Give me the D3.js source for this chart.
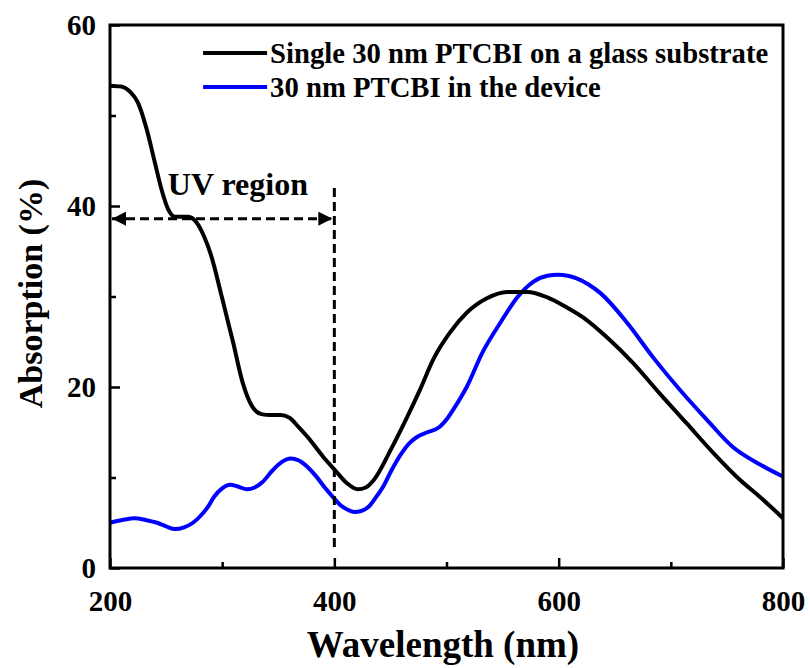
<!DOCTYPE html>
<html>
<head>
<meta charset="utf-8">
<script src="https://cdn.jsdelivr.net/npm/d3@7"></script>
<style>
  html, body { margin: 0; padding: 0; background: #fff; }
  svg text { font-family: "Liberation Serif", "Times New Roman", Times, "DejaVu Serif", serif; font-weight: bold; fill: #000; }
</style>
</head>
<body>
<svg id="chart" width="810" height="668"></svg>
<script>
// Absorption spectra of a 30 nm PTCBI film (wavelength in nm, absorption in %)
const glassWavelength = [200,210,218,225,232,240,246,252,258,264,270,277,284,290,300,310,318,327,335,343,352,360,368,376,390,400,411,421,428,435,450,465,476,488,503,518,536,554,572,590,607,625,643,666,690,714,738,762,780,800];
const glassAbsorption = [53.3,53.2,52.6,51.4,48.8,44.8,41.8,39.6,38.8,38.8,38.8,38.2,36.6,34.6,29.8,24.8,20.6,17.8,17.0,16.9,16.9,16.6,15.6,14.5,12.3,10.9,9.4,8.7,8.9,9.7,13.0,16.7,19.6,23.0,26.0,28.2,29.8,30.5,30.5,29.9,28.8,27.4,25.5,22.7,19.3,16.0,12.7,9.7,7.8,5.5];

const deviceWavelength = [200,211,222,232,242,250,258,266,274,281,287,293,300,307,314,322,329,336,345,353,361,368,374,384,392,399,405,411,418,424,430,437,444,451,459,467,474,483,494,500,506,518,532,548,563,577,590,599,608,616,627,637,661,684,708,732,755,780,800];
const deviceAbsorption = [5.0,5.3,5.5,5.3,5.0,4.6,4.3,4.5,5.0,5.8,6.7,7.9,8.8,9.2,9.0,8.7,8.9,9.5,10.8,11.7,12.1,11.9,11.4,10.1,8.8,7.8,7.0,6.5,6.2,6.3,6.7,7.8,9.1,10.8,12.5,13.8,14.5,15.0,15.6,16.4,17.5,20.0,23.8,27.1,29.9,31.6,32.3,32.4,32.3,32.0,31.3,30.4,27.1,23.3,19.7,16.4,13.4,11.4,10.1];

const seriesNames = ["Single 30 nm PTCBI on a glass substrate", "30 nm PTCBI in the device"];
const seriesColors = ["#000000", "#0000ff"];

const xTicks = [200, 400, 600, 800];
const xMinorTicks = [300, 500, 700];
const yTicks = [0, 20, 40, 60];
const yMinorTicks = [10, 30, 50];

// UV region marker: from the left edge to 400 nm
const uvStart = 200, uvEnd = 400, uvLevel = 38.6;
const uvLabel = "UV region";

const FONT = "'Liberation Serif', 'Times New Roman', Times, 'DejaVu Serif', serif";

const margin = { left: 110, top: 25, right: 27, bottom: 100 };
const W = 810, H = 668;
const iw = W - margin.left - margin.right;
const ih = H - margin.top - margin.bottom;

const svg = d3.select("#chart");
const defs = svg.append("defs");
defs.append("marker")
  .attr("id", "arrow")
  .attr("viewBox", "0 0 10 10")
  .attr("refX", 10).attr("refY", 5)
  .attr("markerUnits", "userSpaceOnUse")
  .attr("markerWidth", 14).attr("markerHeight", 14)
  .attr("orient", "auto-start-reverse")
  .append("path").attr("d", "M0,0 L10,5 L0,10 Z").attr("fill", "#000");

const g = svg.append("g").attr("transform", `translate(${margin.left},${margin.top})`);

const x = d3.scaleLinear().domain([200, 800]).range([0, iw]);
const y = d3.scaleLinear().domain([0, 60]).range([ih, 0]);

const line = d3.line()
  .x(d => x(d[0]))
  .y(d => y(d[1]))
  .curve(d3.curveMonotoneX);

const glassData = glassWavelength.map((w, i) => [w, glassAbsorption[i]]);
const deviceData = deviceWavelength.map((w, i) => [w, deviceAbsorption[i]]);

// spectra
g.append("path").datum(deviceData)
  .attr("d", line).attr("fill", "none")
  .attr("stroke", seriesColors[1]).attr("stroke-width", 4).attr("stroke-linejoin", "round");
g.append("path").datum(glassData)
  .attr("d", line).attr("fill", "none")
  .attr("stroke", seriesColors[0]).attr("stroke-width", 4).attr("stroke-linejoin", "round");

// frame
g.append("rect").attr("x", 0).attr("y", 0).attr("width", iw).attr("height", ih)
  .attr("fill", "none").attr("stroke", "#000").attr("stroke-width", 3);

// axes with inward ticks
const xAxis = g.append("g").attr("transform", `translate(0,${ih})`)
  .call(d3.axisBottom(x).tickValues(xTicks).tickSize(-10).tickPadding(22).tickFormat(d3.format("d")));
const xMinor = g.append("g").attr("transform", `translate(0,${ih})`)
  .call(d3.axisBottom(x).tickValues(xMinorTicks).tickSize(-6).tickFormat(""));
const yAxis = g.append("g")
  .call(d3.axisLeft(y).tickValues(yTicks).tickSize(-10).tickPadding(14).tickFormat(d3.format("d")));
const yMinor = g.append("g")
  .call(d3.axisLeft(y).tickValues(yMinorTicks).tickSize(-6).tickFormat(""));

[xAxis, xMinor, yAxis, yMinor].forEach(a => {
  a.attr("font-family", null).attr("font-size", null);
  a.select(".domain").remove();
  a.selectAll(".tick line").attr("stroke", "#000").attr("stroke-width", 2.5);
  a.selectAll("text").style("font-family", FONT)
    .style("font-weight", "bold").style("font-size", "29px").attr("fill", "#000");
});
xAxis.selectAll("text").attr("dy", "0.72em");
yAxis.selectAll("text").attr("dy", "0.34em");

// axis titles
svg.append("text")
  .attr("x", 443).attr("y", 657)
  .attr("text-anchor", "middle").style("font-size", "37px")
  .text("Wavelength (nm)");
svg.append("text")
  .attr("transform", `translate(42,${margin.top + ih / 2 - 3}) rotate(-90)`)
  .attr("text-anchor", "middle").style("font-size", "34px")
  .text("Absorption (%)");

// UV region annotation
g.append("line")
  .attr("x1", x(uvStart) + 2).attr("x2", x(uvEnd) - 2)
  .attr("y1", y(uvLevel)).attr("y2", y(uvLevel))
  .attr("stroke", "#000").attr("stroke-width", 3).attr("stroke-dasharray", "9,5")
  .attr("marker-start", "url(#arrow)").attr("marker-end", "url(#arrow)");
g.append("line")
  .attr("x1", x(uvEnd)).attr("x2", x(uvEnd))
  .attr("y1", y(42)).attr("y2", y(2))
  .attr("stroke", "#000").attr("stroke-width", 3).attr("stroke-dasharray", "9,5");
g.append("text")
  .attr("x", x(314)).attr("y", y(41.2))
  .attr("text-anchor", "middle").style("font-size", "32px")
  .text(uvLabel);

// legend
const legend = g.append("g").attr("transform", `translate(${x(283)},${y(56.9)})`);
seriesNames.forEach((name, i) => {
  const row = legend.append("g").attr("transform", `translate(0,${i * 34})`);
  row.append("line").attr("x1", 0).attr("x2", 64).attr("y1", 0).attr("y2", 0)
    .attr("stroke", seriesColors[i]).attr("stroke-width", 4);
  row.append("text").attr("x", 67).attr("y", 0).attr("dy", "0.33em")
    .style("font-size", "28.7px").text(name);
});
</script>
</body>
</html>
